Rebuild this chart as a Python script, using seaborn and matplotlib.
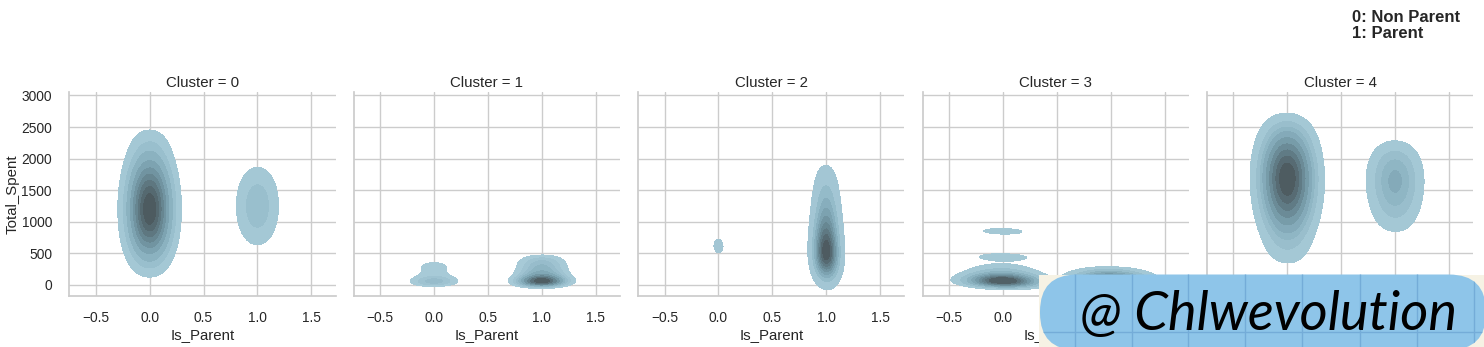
import numpy as np
import pandas as pd
import matplotlib
matplotlib.use("Agg")
import matplotlib.pyplot as plt
from matplotlib.patches import FancyBboxPatch, Rectangle
from matplotlib.lines import Line2D
import seaborn as sns
from seaborn.external import husl

# ---------------- data (Total_Spent bins and number of customers) ----------------
clusters = [0, 1, 2, 3, 4]
parent_labels = ["0: Non Parent", "1: Parent"]

c0_spent_np = [200, 300, 400, 500, 600, 700, 800, 900, 1000, 1100, 1200, 1300, 1400,
               1500, 1600, 1700, 1800, 1900, 2000, 2100, 2200, 2300, 2400]
c0_count_np = [1, 3, 5, 8, 11, 16, 21, 24, 27, 29, 30, 29, 27, 24, 21, 17, 13, 10, 7, 5, 3, 3, 1]
c0_spent_p = [600, 700, 800, 900, 1000, 1100, 1200, 1300, 1400, 1500, 1600, 1700, 1800, 1900]
c0_count_p = [1, 1, 2, 3, 4, 4, 5, 5, 4, 4, 3, 2, 1, 1]

c1_spent_np = [25, 50, 75, 100, 125, 150, 175, 200, 225, 250, 275, 300, 325, 350, 375]
c1_count_np = [12, 16, 13, 8, 5, 3, 3, 3, 3, 3, 3, 3, 3, 2, 1]
c1_spent_p = [25, 50, 75, 100, 125, 150, 175, 200, 225, 250, 275, 300, 325, 350, 375, 400,
              425, 450, 475]
c1_count_p = [65, 100, 90, 60, 40, 30, 24, 20, 18, 16, 15, 14, 13, 12, 10, 8, 5, 3, 1]

c2_spent_np = [150, 250, 570, 610, 800, 900, 1000, 1100, 1200, 1300, 1400, 1500, 1600]
c2_count_np = [1, 1, 2, 3, 1, 1, 1, 1, 1, 1, 1, 1, 1]
c2_spent_p = [100, 200, 300, 400, 500, 600, 700, 800, 900, 1000, 1100, 1200, 1300, 1400,
              1500, 1600, 1700, 1800, 1900]
c2_count_p = [5, 18, 38, 58, 64, 60, 50, 42, 35, 28, 22, 18, 14, 11, 8, 6, 4, 2, 1]

c3_spent_np = [25, 50, 75, 100, 125, 150, 175, 200, 225, 250, 275, 300, 325, 440, 850]
c3_count_np = [38, 46, 42, 30, 20, 13, 8, 6, 4, 3, 2, 2, 1, 9, 7]
c3_spent_p = [25, 50, 75, 100, 125, 150, 175, 200, 225, 250]
c3_count_p = [22, 30, 32, 28, 22, 16, 10, 7, 4, 2]

c4_spent_np = [400, 500, 600, 700, 800, 900, 1000, 1100, 1200, 1300, 1400, 1500, 1600, 1700,
               1800, 1900, 2000, 2100, 2200, 2300, 2400, 2500, 2600]
c4_count_np = [2, 3, 4, 5, 7, 10, 13, 17, 21, 25, 29, 32, 34, 35, 34, 31, 27, 22, 17, 13, 9, 5, 3]
c4_spent_p = [900, 1000, 1100, 1200, 1300, 1400, 1500, 1600, 1700, 1800, 1900, 2000, 2100, 2200]
c4_count_p = [2, 3, 4, 5, 7, 8, 9, 10, 10, 9, 8, 6, 4, 2]

y_ticks = [0, 500, 1000, 1500, 2000, 2500, 3000]

groups = [
    (0, 0, c0_spent_np, c0_count_np), (0, 1, c0_spent_p, c0_count_p),
    (1, 0, c1_spent_np, c1_count_np), (1, 1, c1_spent_p, c1_count_p),
    (2, 0, c2_spent_np, c2_count_np), (2, 1, c2_spent_p, c2_count_p),
    (3, 0, c3_spent_np, c3_count_np), (3, 1, c3_spent_p, c3_count_p),
    (4, 0, c4_spent_np, c4_count_np), (4, 1, c4_spent_p, c4_count_p),
]
frames = []
for cl, par, spent, cnt in groups:
    vals = np.repeat(np.asarray(spent, dtype=float), cnt)
    frames.append(pd.DataFrame({"Cluster": cl, "Is_Parent": par, "Total_Spent": vals}))
df = pd.concat(frames, ignore_index=True)

# ---------------- style ----------------
sns.set_theme(style="whitegrid", font_scale=0.9)
plt.rcParams["font.family"] = ["Liberation Sans", "DejaVu Sans"]
plt.rcParams["axes.titlepad"] = 3.3
plt.rcParams["xtick.major.pad"] = 4.7
plt.rcParams["ytick.major.pad"] = 6.5

seed = husl.husl_to_hex(219, 42, 55)

g = sns.FacetGrid(df, col="Cluster", col_order=clusters, height=3, aspect=1)
g.map_dataframe(sns.kdeplot, x="Is_Parent", y="Total_Spent", fill=True, color=seed)
g.set(xlim=(-0.745, 1.725), ylim=(-174, 3059), yticks=y_ticks)
g.set_titles("Cluster = {col_name}")
g.set_axis_labels("Is_Parent", "Total_Spent")
for ax in g.axes.flat:
    ax.xaxis.labelpad = 2.4
g.axes.flat[0].yaxis.labelpad = 1.0

fig = g.figure
fig.set_size_inches(14.84, 3.47)
fig.subplots_adjust(left=69.3 / 1484, right=1473.3 / 1484, bottom=0.147, top=0.7357, wspace=0.068)

fig.text(1352 / 1484, 1 - 10.5 / 347, "\n".join(parent_labels), ha="left", va="top",
         fontsize=12, fontweight="bold", color="#262626", linespacing=1.0)

# ---------------- watermark badge ----------------
tr = fig.dpi_scale_trans
fig.add_artist(Rectangle((10.39, 0), 4.46, 0.72, transform=tr, facecolor="#f6f2e4",
                         edgecolor="none", zorder=10))
pill = FancyBboxPatch((10.40, -0.03), 4.46, 0.755, boxstyle="round,pad=0,rounding_size=0.37",
                      transform=tr, facecolor="#8ec5e9", edgecolor="none", zorder=11)
fig.add_artist(pill)
for px in [1075, 1132, 1188, 1245, 1302, 1360, 1417, 1474]:
    ln = Line2D([px / 100, px / 100], [0, 0.75], transform=tr, color="#74acd8", lw=1, zorder=12)
    ln.set_clip_path(pill)
    fig.add_artist(ln)
ln = Line2D([10.3, 14.9], [0.153, 0.153], transform=tr, color="#74acd8", lw=1, zorder=12)
ln.set_clip_path(pill)
fig.add_artist(ln)
fig.text(12.68 / 14.84, 0.17 / 3.47, "@ Chlwevolution", ha="center", va="baseline",
         fontsize=39, fontstyle="italic", family=["Lato", "DejaVu Sans"],
         color="black", zorder=13)

fig.savefig("out.png", dpi=100)
